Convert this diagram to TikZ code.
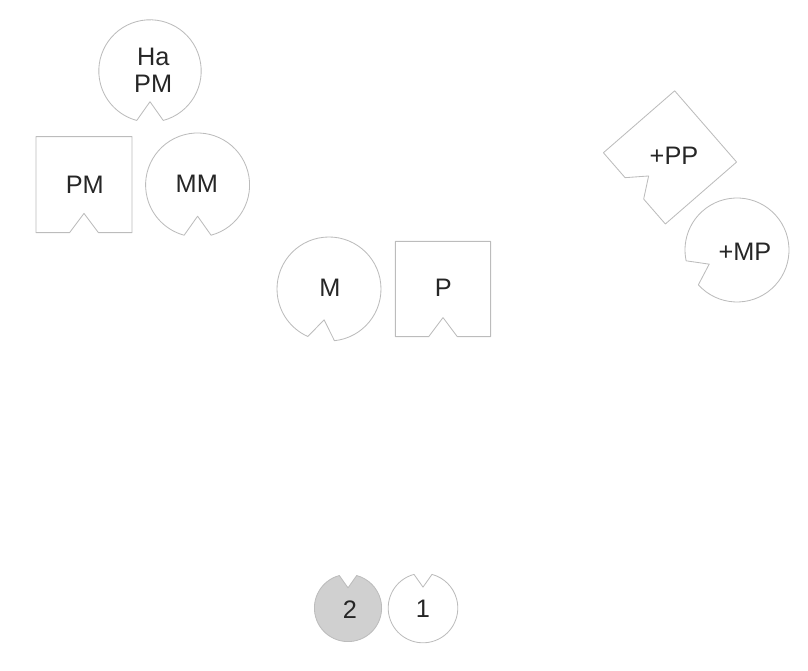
\documentclass[tikz,border=0pt]{standalone}
\usepackage{fontspec}
\setmainfont{Liberation Sans}
\definecolor{edgegray}{RGB}{188,188,188}
\definecolor{labelink}{RGB}{38,38,38}
\definecolor{shadegray}{RGB}{208,208,208}

\begin{document}
\begin{tikzpicture}[
  x=1cm,y=1cm,
  font=\fontsize{18}{19.5}\selectfont,
  outline/.style={draw=edgegray,line width=.6pt,line join=round},
  lab/.style={text=labelink,align=center,inner sep=0pt},
  pics/notchdisc/.style={code={
    \draw[outline,pic actions] (-75:#1) arc[start angle=-75,end angle=255,radius=#1]
      -- (0,{-.6*#1}) -- cycle;}},
  pics/notchsquare/.style={code={
    \draw[outline,pic actions] ({-.15*#1},{-.5*#1}) -- ({-.5*#1},{-.5*#1})
      -- ({-.5*#1},{.5*#1}) -- ({.5*#1},{.5*#1}) -- ({.5*#1},{-.5*#1})
      -- ({.15*#1},{-.5*#1}) -- (0,{-.3*#1}) -- cycle;}}
]
\useasboundingbox (0,0) rectangle (20.2,16.775);

% Upper left group.
\pic at (3.75,15.00) {notchdisc=1.28};
\node[lab] (hapm) at (3.83,15.02) {Ha\\PM};
\pic at (2.10,12.16) {notchsquare=2.40};
\node[lab] (pm) at (2.12,12.15) {PM};
\pic at (4.94,12.15) {notchdisc=1.30};
\node[lab] (mm) at (4.92,12.17) {MM};

% Middle pair.
\pic[rotate=-9] at (8.225,9.55) {notchdisc=1.30};
\node[lab] (m) at (8.25,9.58) {M};
\pic at (11.075,9.55) {notchsquare=2.38};
\node[lab] (p) at (11.08,9.58) {P};

% Turned shapes on the right.
\pic[rotate=-49] at (16.75,12.84) {notchsquare=2.36};
\node[lab] (pp) at (16.85,12.875) {+PP};
\pic[rotate=-63] at (18.425,10.525) {notchdisc=1.30};
\node[lab] (mp) at (18.625,10.475) {+MP};

% Bottom pair.
\pic[rotate=180,fill=shadegray] at (8.70,1.575) {notchdisc=.84};
\node[lab] (two) at (8.75,1.53) {2};
\pic[rotate=180] at (10.575,1.575) {notchdisc=.87};
\node[lab] (one) at (10.575,1.55) {1};

\end{tikzpicture}
\end{document}
